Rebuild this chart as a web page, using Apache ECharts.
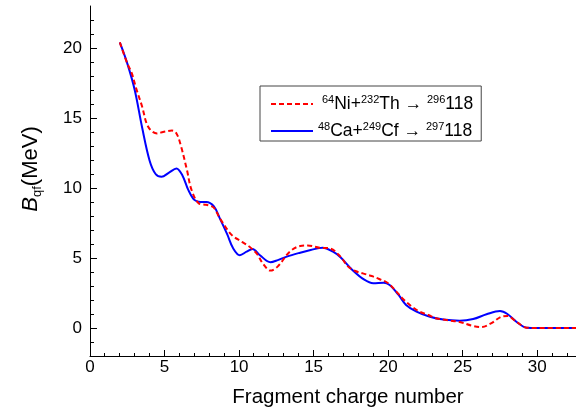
<!DOCTYPE html>
<html>
<head>
<meta charset="utf-8">
<script src="https://cdn.jsdelivr.net/npm/echarts@6/dist/echarts.min.js"></script>
<style>
  html, body { margin: 0; padding: 0; background: #fff; }
  #chart { width: 576px; height: 408px; }
</style>
</head>
<body>
<div id="chart"></div>
<script>
// 64Ni+232Th -> 296 118 (red dashed)
const niX = [2.0, 2.5, 2.8, 3.1, 3.5, 3.8, 4.1, 4.5, 4.9, 5.5, 5.8, 6.1, 6.5, 6.8, 7.3, 7.8, 8.3, 8.7, 9.5, 10.2, 10.7, 11.2, 11.6, 12.1, 12.6, 13.4, 14.1, 14.6, 15.4, 16.1, 16.8, 17.3, 17.8, 18.3, 18.9, 19.4, 20.0, 20.55, 21.0, 21.6, 22.1, 22.7, 23.2, 24.0, 24.8, 25.6, 26.25, 26.9, 27.6, 28.0, 28.6, 29.3, 30, 33];
const niY = [20.4, 18.9, 18.2, 17.1, 15.8, 14.6, 14.1, 13.9, 14.0, 14.1, 13.9, 13.0, 11.3, 9.9, 8.9, 8.8, 8.6, 7.85, 6.65, 6.15, 5.8, 5.3, 4.6, 4.1, 4.4, 5.45, 5.86, 5.9, 5.74, 5.68, 5.1, 4.4, 4.07, 3.9, 3.71, 3.5, 3.2, 2.6, 2.07, 1.52, 1.17, 0.93, 0.7, 0.55, 0.43, 0.17, 0.07, 0.33, 0.81, 0.86, 0.45, 0.02, 0, 0];

// 48Ca+249Cf -> 297 118 (blue solid)
const caX = [2.0, 2.5, 3.0, 3.5, 4.0, 4.4, 4.8, 5.3, 5.8, 6.2, 6.6, 7.0, 7.4, 7.8, 8.3, 8.7, 9.2, 9.6, 10.05, 10.5, 10.9, 11.4, 12.1, 12.6, 13.2, 14.1, 14.8, 15.6, 16.3, 16.8, 17.6, 18.4, 19.0, 19.7, 20.1, 20.7, 21.2, 21.9, 22.8, 23.7, 24.8, 25.7, 26.6, 27.5, 28.0, 28.6, 29.3, 30, 33];
const caY = [20.4, 18.9, 17.0, 14.3, 11.95, 11.0, 10.8, 11.1, 11.4, 10.9, 9.85, 9.15, 9.0, 9.0, 8.7, 7.85, 6.7, 5.7, 5.2, 5.45, 5.65, 5.2, 4.7, 4.85, 5.1, 5.38, 5.57, 5.74, 5.45, 5.05, 4.15, 3.45, 3.2, 3.24, 3.07, 2.36, 1.65, 1.17, 0.8, 0.6, 0.52, 0.64, 0.98, 1.21, 1.0, 0.45, 0.02, 0, 0];

// axis ranges and tick positions (every unit; multiples of 5 are the long ones)
const xMin = 0, xMax = 32.6;
const yMin = -2, yMax = 23;
const xTicks = [0, 1, 2, 3, 4, 5, 6, 7, 8, 9, 10, 11, 12, 13, 14, 15, 16, 17, 18, 19, 20, 21, 22, 23, 24, 25, 26, 27, 28, 29, 30, 31, 32];
const yTicks = [-1, 0, 1, 2, 3, 4, 5, 6, 7, 8, 9, 10, 11, 12, 13, 14, 15, 16, 17, 18, 19, 20, 21, 22];
const majorStep = 5;

const legendText = {
    ni: '{sup1|64}{t|Ni+}{sup|232}{t|Th → }{sup|296}{t|118}',
    ca: '{sup|48}{t|Ca+}{sup|249}{t|Cf → }{sup|297}{t|118}'
};

function pairs(xs, ys) {
    let out = [];
    for (let i = 0; i < xs.length; i++) {
        out.push([xs[i], ys[i]]);
    }
    return out;
}

function isMajor(v) {
    return Math.abs(v % majorStep) < 1e-9;
}

function majorOnly(v) {
    return isMajor(v) ? String(v) : '';
}

const font = 'Liberation Sans, Arial, sans-serif';
const chart = echarts.init(document.getElementById('chart'), null, { renderer: 'canvas' });

// inward ticks, placed through the axes' own coordinate system
function tickItem(horizontal) {
    return function (params, api) {
        let v = api.value(horizontal ? 0 : 1);
        let len = isMajor(v) ? 6 : 3;
        let p = horizontal ? api.coord([v, yMin]) : api.coord([xMin, v]);
        let x = Math.floor(p[0]);
        let y = Math.floor(p[1]);
        let shape = horizontal
            ? { x: x, y: y - len, width: 1, height: len + 1 }
            : { x: x, y: y, width: len + 1, height: 1 };
        return {
            type: 'rect',
            shape: shape,
            style: { fill: '#000' }
        };
    };
}

let option = {
    backgroundColor: '#fff',
    animation: false,
    textStyle: { fontFamily: font, color: '#000' },
    grid: { left: 90, right: 0, top: 6, bottom: 52, containLabel: false, outerBoundsMode: 'none' },
    legend: {
        orient: 'vertical',
        left: 260,
        top: 86,
        width: 220,
        padding: [8, 8, 1, 10],
        itemGap: 8,
        itemWidth: 42,
        itemHeight: 14,
        borderColor: '#444',
        borderWidth: 1,
        itemStyle: { opacity: 0 },
        data: ['ni', 'ca'],
        formatter: function (name) {
            return legendText[name];
        },
        textStyle: {
            fontFamily: font,
            rich: {
                t: { fontSize: 17.5, lineHeight: 20, color: '#000', fontFamily: font },
                sup: { fontSize: 11, lineHeight: 11, verticalAlign: 'top', color: '#000', fontFamily: font },
                sup1: { fontSize: 11, lineHeight: 11, verticalAlign: 'top', color: '#000', fontFamily: font, padding: [0, 0, 0, 4] }
            }
        }
    },
    xAxis: {
        type: 'value',
        min: xMin,
        max: xMax,
        interval: 1,
        name: 'Fragment charge number',
        nameLocation: 'middle',
        nameGap: 31,
        nameTextStyle: { fontSize: 20.5, color: '#000', fontFamily: font, padding: [0, 0, 0, 30] },
        axisLine: { show: true, onZero: false, lineStyle: { color: '#000', width: 1 } },
        axisTick: { show: false },
        axisLabel: { fontSize: 17, color: '#000', margin: 3, fontFamily: font, formatter: majorOnly, showMaxLabel: false },
        splitLine: { show: false }
    },
    yAxis: {
        type: 'value',
        min: yMin,
        max: yMax,
        interval: 1,
        name: '{b|B}{sub|qf}{n|(MeV)}',
        nameLocation: 'middle',
        nameRotate: 90,
        nameGap: 46,
        nameTextStyle: {
            padding: [0, 0, 0, 24],
            rich: {
                b: { fontSize: 22, fontStyle: 'italic', lineHeight: 26, color: '#000', fontFamily: font },
                sub: { fontSize: 13, lineHeight: 13, verticalAlign: 'bottom', color: '#000', fontFamily: font },
                n: { fontSize: 22, lineHeight: 26, color: '#000', fontFamily: font }
            }
        },
        axisLine: { show: true, onZero: false, lineStyle: { color: '#000', width: 1 } },
        axisTick: { show: false },
        axisLabel: { fontSize: 17, color: '#000', margin: 8, fontFamily: font, formatter: majorOnly },
        splitLine: { show: false }
    },
    series: [
        {
            name: 'ni',
            type: 'line',
            data: pairs(niX, niY),
            smooth: 0.35,
            showSymbol: false,
            symbol: 'none',
            z: 3,
            lineStyle: { color: '#ff0000', width: 2, type: [5, 3] },
            itemStyle: { color: '#ff0000' }
        },
        {
            name: 'ca',
            type: 'line',
            data: pairs(caX, caY),
            smooth: 0.35,
            showSymbol: false,
            symbol: 'none',
            z: 2,
            lineStyle: { color: '#0000ff', width: 2 },
            itemStyle: { color: '#0000ff' }
        },
        {
            name: 'xticks',
            type: 'custom',
            silent: true,
            clip: false,
            z: 5,
            renderItem: tickItem(true),
            data: xTicks.map(function (v) { return [v, yMin]; })
        },
        {
            name: 'yticks',
            type: 'custom',
            silent: true,
            clip: false,
            z: 5,
            renderItem: tickItem(false),
            data: yTicks.map(function (v) { return [xMin, v]; })
        }
    ]
};

chart.setOption(option);
</script>
</body>
</html>
